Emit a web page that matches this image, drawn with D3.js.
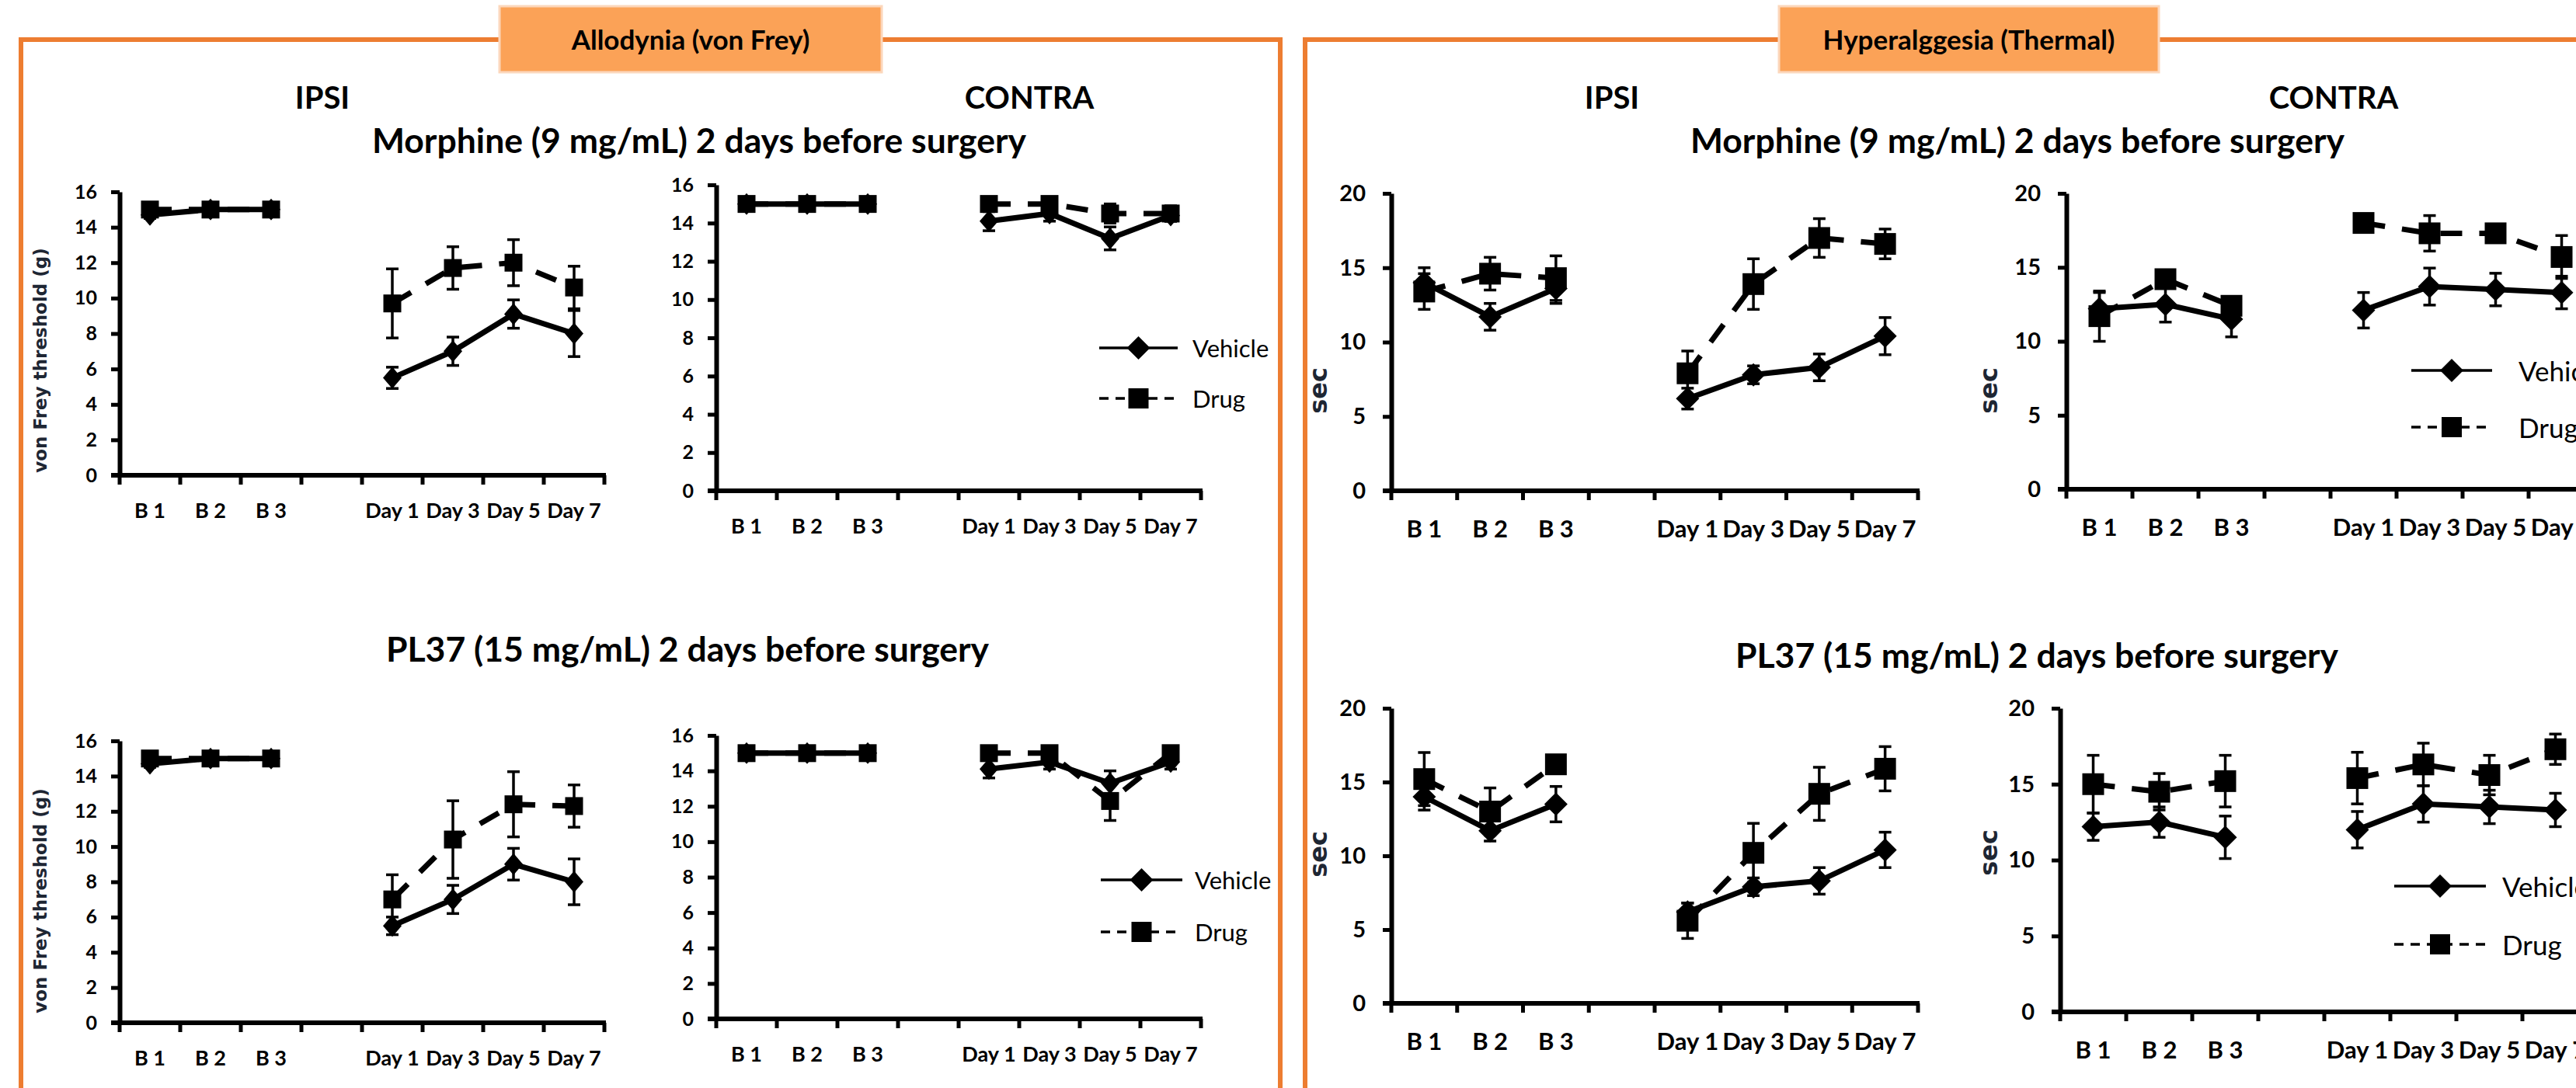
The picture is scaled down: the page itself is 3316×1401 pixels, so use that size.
<!DOCTYPE html>
<html>
<head>
<meta charset="utf-8">
<script src="https://cdnjs.cloudflare.com/ajax/libs/d3/7.8.5/d3.min.js"></script>
<style>
  html, body { margin: 0; padding: 0; background: #fff; }
  svg { display: block; }
</style>
</head>
<body>
<svg id="chart" width="3316" height="1401"></svg>
<script>
// x categories (empty slot separates baseline from post-surgery days)
const categories = ["B 1", "B 2", "B 3", "", "Day 1", "Day 3", "Day 5", "Day 7"];
const seriesNames = ["Vehicle", "Drug"];
const vonFreyTicks = [0, 2, 4, 6, 8, 10, 12, 14, 16];
const thermalTicks = [0, 5, 10, 15, 20];

// Allodynia (von Frey) - IPSI - Morphine
const vfIpsiMorVehicle = [14.7, 15, 15, null, 5.5, 7.0, 9.1, 8.0];
const vfIpsiMorVehicleSem = [0.2, 0.1, 0.1, null, 0.6, 0.8, 0.8, 1.3];
const vfIpsiMorDrug = [15, 15, 15, null, 9.7, 11.7, 12.0, 10.6];
const vfIpsiMorDrugSem = [0.1, 0.1, 0.1, null, 1.95, 1.2, 1.3, 1.2];
// Allodynia (von Frey) - CONTRA - Morphine
const vfContraMorVehicle = [15, 15, 15, null, 14.1, 14.5, 13.2, 14.4];
const vfContraMorVehicleSem = [0, 0, 0, null, 0.5, 0.4, 0.6, 0.3];
const vfContraMorDrug = [15, 15, 15, null, 15.0, 15.0, 14.5, 14.5];
const vfContraMorDrugSem = [0, 0, 0, null, 0.1, 0.2, 0.5, 0.4];
// Allodynia (von Frey) - IPSI - PL37
const vfIpsiPlVehicle = [14.7, 15, 15, null, 5.5, 7.0, 9.0, 8.0];
const vfIpsiPlVehicleSem = [0.2, 0, 0, null, 0.5, 0.8, 0.9, 1.3];
const vfIpsiPlDrug = [15, 15, 15, null, 7.0, 10.4, 12.4, 12.3];
const vfIpsiPlDrugSem = [0.1, 0, 0, null, 1.4, 2.2, 1.85, 1.2];
// Allodynia (von Frey) - CONTRA - PL37
const vfContraPlVehicle = [15, 15, 15, null, 14.1, 14.5, 13.3, 14.5];
const vfContraPlVehicleSem = [0, 0, 0, null, 0.5, 0.4, 0.7, 0.4];
const vfContraPlDrug = [15, 15, 15, null, 15.0, 15.0, 12.3, 15.0];
const vfContraPlDrugSem = [0, 0, 0, null, 0.1, 0.1, 1.1, 0.3];
// Hyperalgesia (thermal) - IPSI - Morphine
const thIpsiMorVehicle = [14.0, 11.7, 13.6, null, 6.2, 7.8, 8.3, 10.4];
const thIpsiMorVehicleSem = [1.0, 0.9, 1.0, null, 0.7, 0.6, 0.9, 1.25];
const thIpsiMorDrug = [13.4, 14.6, 14.3, null, 7.9, 13.9, 17.0, 16.6];
const thIpsiMorDrugSem = [1.2, 1.1, 1.5, null, 1.5, 1.7, 1.3, 1.0];
// Hyperalgesia (thermal) - CONTRA - Morphine
const thContraMorVehicle = [12.2, 12.5, 11.5, null, 12.1, 13.7, 13.5, 13.3];
const thContraMorVehicleSem = [1.1, 1.2, 1.2, null, 1.2, 1.25, 1.1, 1.1];
const thContraMorDrug = [11.7, 14.2, 12.4, null, 18.0, 17.3, 17.3, 15.7];
const thContraMorDrugSem = [1.7, 0.5, 0.5, null, 0.6, 1.2, 0.3, 1.45];
// Hyperalgesia (thermal) - IPSI - PL37
const thIpsiPlVehicle = [14.0, 11.7, 13.5, null, 6.2, 7.9, 8.3, 10.4];
const thIpsiPlVehicleSem = [0.9, 0.7, 1.2, null, 0.6, 0.6, 0.9, 1.2];
const thIpsiPlDrug = [15.2, 13.0, 16.2, null, 5.6, 10.2, 14.2, 15.9];
const thIpsiPlDrugSem = [1.8, 1.6, 0.4, null, 1.2, 2.0, 1.8, 1.5];
// Hyperalgesia (thermal) - CONTRA - PL37
const thContraPlVehicle = [12.2, 12.5, 11.5, null, 12.0, 13.7, 13.5, 13.3];
const thContraPlVehicleSem = [0.9, 1.0, 1.4, null, 1.2, 1.2, 1.1, 1.1];
const thContraPlDrug = [15.0, 14.5, 15.2, null, 15.4, 16.3, 15.6, 17.3];
const thContraPlDrugSem = [1.9, 1.2, 1.7, null, 1.7, 1.4, 1.3, 1.0];

const svg = d3.select("#chart");
const orange = "#ED7D31";
const boldFont = "Lato, 'Open Sans', sans-serif";
const labelFont = "'DejaVu Sans', Verdana, sans-serif";

// Стили для двух типов графиков
const styles = {
  vf: { yFont: 25, xFont: 27, xBase: 55, yPad: 18, sq: 23, dw: 12, dh: 14, legFont: 31 },
  th: { yFont: 29, xFont: 31, xBase: 60, yPad: 22, sq: 28, dw: 15, dh: 15, legFont: 35 }
};

// Рамки и заголовки блоков
function frameBlock(path, box, title) {
  svg.append("path")
    .attr("d", path)
    .attr("fill", "none")
    .attr("stroke", orange)
    .attr("stroke-width", 6);
  svg.append("rect")
    .attr("x", box.x).attr("y", 8)
    .attr("width", box.w).attr("height", 85)
    .attr("fill", "#FBA257")
    .attr("stroke", "#FCD7BC")
    .attr("stroke-width", 3);
  svg.append("text")
    .attr("x", box.x + box.w / 2).attr("y", 64)
    .attr("text-anchor", "middle")
    .attr("font-family", boldFont).attr("font-weight", 700)
    .attr("font-size", 35)
    .text(title);
}
frameBlock("M27,1420V51H1648V1420", { x: 643, w: 492 }, "Allodynia (von Frey)");
frameBlock("M1680,1420V51H3330", { x: 2290, w: 489 }, "Hyperalggesia (Thermal)");

function heading(x, y, str, size) {
  svg.append("text")
    .attr("x", x).attr("y", y)
    .attr("text-anchor", "middle")
    .attr("font-family", boldFont).attr("font-weight", 700)
    .attr("font-size", size)
    .text(str);
}
heading(415, 140, "IPSI", 40);
heading(1325, 140, "CONTRA", 40);
heading(900, 197, "Morphine (9 mg/mL) 2 days before surgery", 44.5);
heading(885, 852, "PL37 (15 mg/mL) 2 days before surgery", 44.5);
heading(2075, 140, "IPSI", 40);
heading(3004, 140, "CONTRA", 40);
heading(2597, 197, "Morphine (9 mg/mL) 2 days before surgery", 44.5);
heading(2622, 860, "PL37 (15 mg/mL) 2 days before surgery", 44.5);

function diamondPath(cx, cy, w, h) {
  return `M${cx},${cy - h}L${cx + w},${cy}L${cx},${cy + h}L${cx - w},${cy}Z`;
}

function drawPanel(p) {
  const st = styles[p.kind];
  const g = svg.append("g");
  const x = d3.scaleBand().domain(categories).range([p.x0, p.x1]);
  const y = d3.scaleLinear().domain([0, p.ticks[p.ticks.length - 1]]).range([p.y0, p.yTop]);

  // Ось Y
  const yAxis = g.append("g")
    .attr("transform", `translate(${p.x0},0)`)
    .call(d3.axisLeft(y).tickValues(p.ticks).tickSize(11).tickSizeOuter(0).tickPadding(st.yPad));
  yAxis.select(".domain").attr("stroke", "#000").attr("stroke-width", 6);
  yAxis.selectAll(".tick line").attr("stroke", "#000").attr("stroke-width", 5);
  yAxis.selectAll("text")
    .attr("font-family", boldFont).attr("font-weight", 700)
    .attr("font-size", st.yFont).attr("fill", "#000");

  // Ось X: подписи категорий
  const xAxis = g.append("g")
    .attr("transform", `translate(0,${p.y0})`)
    .call(d3.axisBottom(x).tickSize(0));
  xAxis.select(".domain").remove();
  xAxis.selectAll("text")
    .attr("y", st.xBase).attr("dy", null)
    .attr("font-family", boldFont).attr("font-weight", 700)
    .attr("font-size", st.xFont).attr("fill", "#000");

  // линия оси X и деления между категориями
  g.append("line")
    .attr("x1", p.x0 - 11).attr("x2", p.x1 + 2)
    .attr("y1", p.y0).attr("y2", p.y0)
    .attr("stroke", "#000").attr("stroke-width", 6);
  g.selectAll(".xtick")
    .data(d3.range(categories.length + 1))
    .join("line")
    .attr("x1", i => p.x0 + i * x.step()).attr("x2", i => p.x0 + i * x.step())
    .attr("y1", p.y0).attr("y2", p.y0 + 12)
    .attr("stroke", "#000").attr("stroke-width", 5);

  const cx = c => x(c) + x.bandwidth() / 2;
  const series = [
    { vals: p.veh, sem: p.vehSem, dash: null, marker: "diamond" },
    { vals: p.drug, sem: p.drugSem, dash: "28,22", marker: "square" }
  ];

  series.forEach(s => {
    const pts = categories.map((c, i) => ({ c, v: s.vals[i], e: s.sem[i] }));
    const line = d3.line()
      .defined(d => d.v != null)
      .x(d => cx(d.c))
      .y(d => y(d.v));

    g.append("path")
      .datum(pts)
      .attr("fill", "none")
      .attr("stroke", "#000")
      .attr("stroke-width", 7)
      .attr("stroke-dasharray", s.dash)
      .attr("d", line);

    // планки погрешностей
    const eb = pts.filter(d => d.v != null && d.e > 0);
    const ebG = g.append("g").attr("stroke", "#000").attr("stroke-width", 3.5);
    ebG.selectAll(".v").data(eb).join("line")
      .attr("x1", d => cx(d.c)).attr("x2", d => cx(d.c))
      .attr("y1", d => y(d.v - d.e)).attr("y2", d => y(d.v + d.e));
    ebG.selectAll(".t").data(eb).join("line")
      .attr("x1", d => cx(d.c) - 8).attr("x2", d => cx(d.c) + 8)
      .attr("y1", d => y(d.v + d.e)).attr("y2", d => y(d.v + d.e));
    ebG.selectAll(".b").data(eb).join("line")
      .attr("x1", d => cx(d.c) - 8).attr("x2", d => cx(d.c) + 8)
      .attr("y1", d => y(d.v - d.e)).attr("y2", d => y(d.v - d.e));

    // маркеры
    const pv = pts.filter(d => d.v != null);
    if (s.marker === "square") {
      g.selectAll(".sq").data(pv).join("rect")
        .attr("x", d => cx(d.c) - st.sq / 2).attr("y", d => y(d.v) - st.sq / 2)
        .attr("width", st.sq).attr("height", st.sq)
        .attr("fill", "#000");
    } else {
      g.selectAll(".dm").data(pv).join("path")
        .attr("d", d => diamondPath(cx(d.c), y(d.v), st.dw, st.dh))
        .attr("fill", "#000");
    }
  });

  // Подпись оси Y
  if (p.yLabel) {
    g.append("text")
      .attr("transform", `translate(${p.yLabel.x},${p.yLabel.y}) rotate(-90)`)
      .attr("text-anchor", "middle")
      .attr("dominant-baseline", "central")
      .attr("font-family", labelFont).attr("font-weight", 700)
      .attr("font-size", p.yLabel.size)
      .attr("fill", "#1E2633")
      .text(p.yLabel.text);
  }

  // Легенда
  if (p.legend) {
    const L = p.legend;
    seriesNames.forEach((name, i) => {
      const ly = L.ys[i];
      const mid = (L.lx0 + L.lx1) / 2;
      g.append("line")
        .attr("x1", L.lx0).attr("x2", L.lx1)
        .attr("y1", ly).attr("y2", ly)
        .attr("stroke", "#000").attr("stroke-width", 3.5)
        .attr("stroke-dasharray", i === 1 ? "12,9" : null);
      if (i === 0) {
        g.append("path").attr("d", diamondPath(mid, ly, 15, 15)).attr("fill", "#000");
      } else {
        g.append("rect")
          .attr("x", mid - 13).attr("y", ly - 13)
          .attr("width", 26).attr("height", 26).attr("fill", "#000");
      }
      g.append("text")
        .attr("x", L.tx).attr("y", ly)
        .attr("dominant-baseline", "central")
        .attr("font-family", boldFont)
        .attr("font-size", st.legFont)
        .text(name);
    });
  }
}

const vfLabel = "von Frey threshold (g)";
const panels = [
  { kind: "vf", x0: 154, x1: 778, yTop: 247, y0: 612, ticks: vonFreyTicks,
    veh: vfIpsiMorVehicle, vehSem: vfIpsiMorVehicleSem, drug: vfIpsiMorDrug, drugSem: vfIpsiMorDrugSem,
    yLabel: { text: vfLabel, x: 52, y: 464, size: 23 } },
  { kind: "vf", x0: 922, x1: 1546, yTop: 238, y0: 632, ticks: vonFreyTicks,
    veh: vfContraMorVehicle, vehSem: vfContraMorVehicleSem, drug: vfContraMorDrug, drugSem: vfContraMorDrugSem,
    legend: { lx0: 1415, lx1: 1516, ys: [448, 513], tx: 1535 } },
  { kind: "vf", x0: 154, x1: 778, yTop: 954, y0: 1317, ticks: vonFreyTicks,
    veh: vfIpsiPlVehicle, vehSem: vfIpsiPlVehicleSem, drug: vfIpsiPlDrug, drugSem: vfIpsiPlDrugSem,
    yLabel: { text: vfLabel, x: 52, y: 1160, size: 23 } },
  { kind: "vf", x0: 922, x1: 1546, yTop: 947, y0: 1312, ticks: vonFreyTicks,
    veh: vfContraPlVehicle, vehSem: vfContraPlVehicleSem, drug: vfContraPlDrug, drugSem: vfContraPlDrugSem,
    legend: { lx0: 1417, lx1: 1522, ys: [1133, 1200], tx: 1538 } },
  { kind: "th", x0: 1791, x1: 2469, yTop: 249, y0: 632, ticks: thermalTicks,
    veh: thIpsiMorVehicle, vehSem: thIpsiMorVehicleSem, drug: thIpsiMorDrug, drugSem: thIpsiMorDrugSem,
    yLabel: { text: "sec", x: 1697, y: 503, size: 32 } },
  { kind: "th", x0: 2660, x1: 3340, yTop: 249, y0: 630, ticks: thermalTicks,
    veh: thContraMorVehicle, vehSem: thContraMorVehicleSem, drug: thContraMorDrug, drugSem: thContraMorDrugSem,
    yLabel: { text: "sec", x: 2560, y: 503, size: 32 },
    legend: { lx0: 3104, lx1: 3208, ys: [477, 550], tx: 3242 } },
  { kind: "th", x0: 1791, x1: 2469, yTop: 912, y0: 1292, ticks: thermalTicks,
    veh: thIpsiPlVehicle, vehSem: thIpsiPlVehicleSem, drug: thIpsiPlDrug, drugSem: thIpsiPlDrugSem,
    yLabel: { text: "sec", x: 1697, y: 1100, size: 32 } },
  { kind: "th", x0: 2652, x1: 3332, yTop: 912, y0: 1303, ticks: thermalTicks,
    veh: thContraPlVehicle, vehSem: thContraPlVehicleSem, drug: thContraPlDrug, drugSem: thContraPlDrugSem,
    yLabel: { text: "sec", x: 2560, y: 1098, size: 32 },
    legend: { lx0: 3082, lx1: 3200, ys: [1141, 1216], tx: 3221 } }
];

panels.forEach(drawPanel);
</script>
</body>
</html>
